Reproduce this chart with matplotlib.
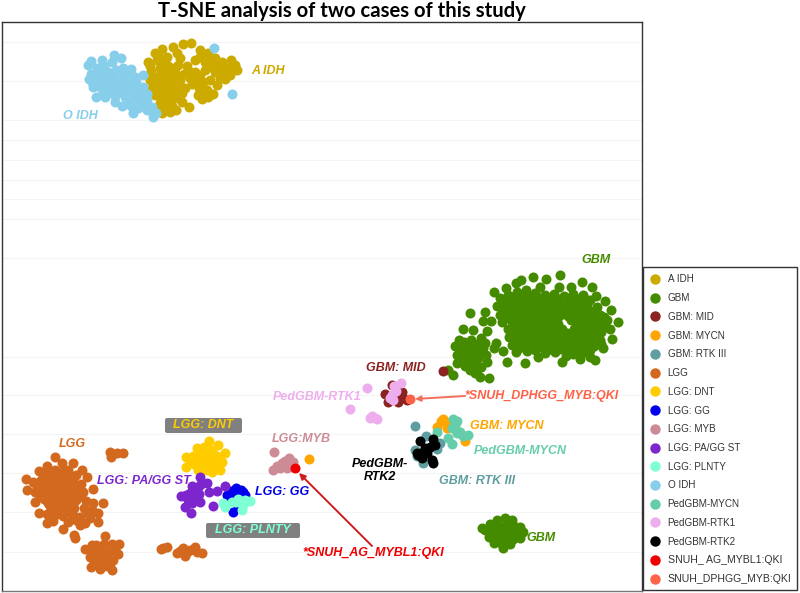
import matplotlib
matplotlib.use('Agg')
import matplotlib.pyplot as plt
from matplotlib.lines import Line2D
from matplotlib.patches import FancyBboxPatch, Rectangle

# points, axes units are reference pixels
a_idh = [(173,47),(183,44),(191,43),(200,50),(208,53),(162,49),(155,53),(148,62),(157,60),(167,57),(177,53),(178,65),
         (187,66),(195,60),(205,62),(215,58),(222,62),(231,60),(237,70),(230,75),(235,65),(151,71),(160,68),(168,66),
         (175,72),(170,75),(160,75),(153,85),(150,90),(160,88),(170,85),(180,80),(190,78),(185,88),(175,92),(165,95),
         (160,103),(167,108),(172,106),(170,112),(162,113),(182,102),(189,107),(202,99),(213,94),(207,90),(199,88),
         (210,80),(220,78),(225,79),(200,75),(195,72),(205,70),(215,72),(165,62),(172,68),(160,82),(168,80),(176,86),
         (184,74),(210,66),(222,70),(155,95),(163,100),(172,98),(208,97),(198,95),(192,84),(182,93),(170,104),(158,110),
         (217,85),(203,82),(228,68),(150,66),(158,56),(155,78),(165,72),(180,58),(200,57),(212,60),(190,72),(215,66),
         (203,92),(168,90),(178,98),(158,92),(225,72),(165,84),(196,80),(176,78),(150,80),(165,108),(176,110)]
gbm = [(533,277),(560,275),(546,279),(521,280),(516,283),(582,282),(506,288),(494,292),(592,287),(571,287),(559,287),
       (540,287),(596,296),(605,301),(611,310),(618,322),(610,329),(612,339),(603,348),(595,360),(580,359),(562,362),
       (538,357),(525,363),(507,362),(503,351),(494,348),(496,343),(470,313),(485,312),(483,321),(491,321),(463,329),
       (473,330),(487,331),(481,338),(459,340),(455,346),(457,355),(457,363),(465,366),(475,373),(489,378),(480,377),
       (453,375),(448,370),(487,362),
       (500,298),(508,295),(517,292),(526,290),(535,293),(545,295),(554,294),(564,296),(573,294),(583,295),(590,300),
       (497,306),(506,303),(515,301),(524,299),(533,301),(542,303),(551,302),(560,304),(569,302),(578,303),(587,305),(597,307),
       (500,315),(509,312),(518,310),(527,308),(536,311),(545,312),(554,310),(563,313),(572,311),(581,312),(590,314),(600,315),
       (502,322),(511,320),(520,319),(529,318),(538,320),(547,321),(556,319),(571,320),(580,321),(589,322),(598,323),(607,320),
       (508,329),(517,328),(526,327),(535,329),(544,330),(553,328),(562,329),(574,329),(583,330),(592,331),(601,332),
       (509,337),(518,336),(527,335),(536,338),(545,338),(554,337),(563,336),(572,338),(581,339),(590,338),(600,340),
       (512,345),(521,344),(530,345),(539,347),(548,346),(557,345),(566,344),(575,346),(584,347),(594,346),(601,344),
       (516,352),(527,351),(545,353),(555,352),(568,351),(585,352),
       (464,342),(471,340),(478,344),(468,349),(475,351),(483,348),(462,356),(470,357),(478,358),(486,355),(467,362),(474,364),(481,367),
       (566,356),(573,354),(590,357),
       (504,300),(513,297),(522,295),(531,296),(540,298),(550,298),(559,299),(569,298),(578,299),(587,300),
       (504,308),(513,306),(522,304),(531,305),(540,307),(549,307),(558,308),(567,307),(576,308),(585,309),(594,311),
       (505,318),(514,315),(523,314),(532,314),(541,316),(550,316),(559,316),(568,316),(577,317),(586,318),(595,319),(604,317),
       (513,324),(522,323),(531,323),(540,325),(549,325),(558,324),(577,325),(586,326),(595,327),(604,326),
       (513,333),(522,332),(531,331),(540,333),(549,334),(558,333),(567,333),(578,334),(587,335),(596,335),
       (514,341),(523,340),(532,341),(541,342),(550,342),(559,341),(568,340),(577,342),(586,343),(596,342),
       (519,348),(535,350),(550,349),(561,349),(578,350),(590,350),
       (460,347),(467,345),(474,347),(481,353),(463,352),(473,358),(485,343),(470,370),(477,370),(460,360)]
gbm_small = [(497,520),(505,518),(512,520),(490,524),(498,526),(506,525),(514,526),(520,527),(485,530),(493,532),(501,531),
             (509,532),(517,533),(523,532),(489,537),(497,538),(505,537),(513,539),(520,538),(494,543),(502,544),(510,544),(503,548),(482,528)]
gbm_mid = [(443,371),(385,394),(392,385),(402,392),(407,400),(398,402),(388,402),(396,396),(403,398)]
gbm_mycn = [(309,459),(443,419),(441,421),(447,428),(437,427),(465,441),(446,422)]
gbm_rtk3 = [(415,426),(426,436),(440,443),(415,450),(423,463),(432,460),(417,456),(437,449)]
lgg = [(55,457),(26,479),(27,490),(73,463),(82,470),(87,477),(93,489),(103,503),(98,513),(98,522),(85,523),(80,525),
       (63,529),(74,535),(75,538),(47,523),(39,513),(35,502),(39,471),(47,466),(55,470),(62,463),(68,470),(76,475),
       (33,482),(41,480),(49,478),(57,478),(65,478),(73,482),(81,484),(35,492),(43,490),(51,488),(59,488),(67,488),
       (75,491),(83,492),(44,499),(52,498),(60,497),(68,498),(76,500),(86,501),(93,503),(50,506),(58,506),(66,506),
       (74,508),(92,510),(47,514),(55,515),(63,516),(73,515),(80,517),(88,513),(53,521),(68,522),(76,520),
       (45,473),(53,474),(61,472),(69,476),(37,487),(45,485),(53,483),(61,483),(69,483),(77,486),(40,495),(48,494),
       (56,493),(64,493),(72,495),(80,496),(48,503),(56,502),(64,502),(72,503),(54,510),(62,511),(70,512),(84,508),(90,518),
       (110,452),(111,457),(117,453),(123,453),
       (105,536),(85,549),(119,544),(118,554),(90,557),(91,567),(100,569),(112,570),(96,545),(104,544),(112,544),
       (93,551),(101,552),(109,552),(97,559),(105,560),(113,560),(99,565),(107,566),(92,545),(115,549),(94,562),(110,564),
       (161,549),(163,548),(167,547),(177,553),(185,556),(183,548),(195,547),(202,553),(197,552),(190,550),(180,551),(187,552)]
lgg_dnt = [(209,441),(218,445),(225,453),(222,462),(220,470),(186,457),(186,467),(197,448),(204,447),(212,450),(193,456),
           (201,455),(209,456),(217,456),(194,464),(202,463),(210,463),(216,465),(198,470),(206,470),(212,472),
           (200,451),(208,451),(197,460),(205,459),(213,460),(190,461),(200,466),(208,467),(214,468)]
lgg_gg = [(236,488),(227,495),(245,495),(231,491),(241,490),(234,497),(240,497),(228,500),(233,512),(238,507),(243,492),(229,493),(238,493)]
lgg_myb = [(274,452),(289,458),(282,463),(273,470),(280,468),(287,468),(293,462),(292,467),(285,461),(277,466)]
lgg_pa = [(200,477),(207,483),(225,486),(217,491),(209,492),(192,486),(181,496),(190,493),(200,502),(185,507),(191,513),
          (213,506),(197,490),(188,500),(196,497),(200,485),(192,503),(186,495),(193,498),(199,494)]
lgg_plnty = [(225,507),(232,502),(238,499),(250,501),(243,505),(242,510),(223,503),(245,500),(236,502)]
o_idh = [(114,55),(121,58),(102,60),(91,61),(88,65),(112,62),(91,74),(100,71),(108,72),(89,79),(97,78),(105,80),(113,78),
         (123,68),(131,69),(143,75),(135,77),(123,78),(93,87),(100,87),(108,88),(117,87),(125,87),(133,87),(143,87),(96,97),
         (105,97),(115,102),(122,106),(125,97),(133,98),(131,106),(133,113),(140,103),(147,100),(147,110),(153,117),(156,113),
         (152,107),(214,48),(232,94),(97,68),(104,66),(116,70),(128,75),(96,82),(112,84),(120,92),(128,92),(138,92),(110,92),
         (103,92),(138,108),(144,106),(104,74),(112,75),(120,72),(128,82),(136,82),(120,82),(100,84),(92,82),(115,96),(140,97),(147,94),(128,103)]
ped_mycn = [(453,419),(457,421),(437,432),(452,428),(457,433),(463,436),(468,435),(448,438),(452,444),(460,432),(455,426)]
ped_rtk1 = [(367,388),(350,409),(394,386),(401,383),(392,395),(393,400),(370,418),(375,418),(372,416),(377,419),(390,398),(396,391)]
ped_rtk2 = [(420,441),(433,439),(435,445),(425,448),(427,453),(418,455),(422,458),(433,463),(432,460),(417,453),(423,452),(430,447)]
snuh_ag = [(295,468)]
snuh_dphgg = [(410,399)]

series_names = ['A IDH', 'GBM', 'GBM: MID', 'GBM: MYCN', 'GBM: RTK III', 'LGG', 'LGG: DNT', 'LGG: GG', 'LGG: MYB',
                'LGG: PA/GG ST', 'LGG: PLNTY', 'O IDH', 'PedGBM-MYCN', 'PedGBM-RTK1', 'PedGBM-RTK2',
                'SNUH_ AG_MYBL1:QKI', 'SNUH_DPHGG_MYB:QKI']
series_colors = ['#CDAA00', '#458B00', '#8B2323', '#FFA500', '#5F9EA0', '#D2691E', '#FFCC00', '#0000EE', '#CD8C95',
                 '#7D26CD', '#7FFFD4', '#87CEEB', '#66CDAA', '#EEAEEE', '#000000', '#EE0000', '#FF6347']
series_points = [a_idh, gbm + gbm_small, gbm_mid, gbm_mycn, gbm_rtk3, lgg, lgg_dnt, lgg_gg, lgg_myb, lgg_pa, lgg_plnty, o_idh,
                 ped_mycn, ped_rtk1, ped_rtk2, snuh_ag, snuh_dphgg]
grid_rows = [42, 81, 120, 140, 160, 180, 199, 219, 258, 357, 395, 434, 473, 512, 552]

# text, left x, center y, colour
labels = [('A IDH', 251, 71, '#CDAA00'), ('O IDH', 63, 116, '#87CEEB'), ('GBM', 581, 260, '#458B00'),
          ('GBM: MID', 366, 368, '#8B2323'), ('PedGBM-RTK1', 273, 397, '#EEAEEE'),
          ('*SNUH_DPHGG_MYB:QKI', 464, 396, '#FF6347'), ('GBM: MYCN', 470, 426, '#FFA500'),
          ('PedGBM-MYCN', 474, 451, '#66CDAA'), ('GBM: RTK III', 439, 481, '#5F9EA0'),
          ('LGG:MYB', 272, 439, '#CD8C95'), ('LGG', 59, 444, '#D2691E'), ('LGG: PA/GG ST', 97, 481, '#7D26CD'),
          ('LGG: GG', 255, 492, '#0000EE'), ('*SNUH_AG_MYBL1:QKI', 302, 553, '#EE0000'), ('GBM', 526, 538, '#458B00')]

plt.rcParams['font.family'] = ['Liberation Sans', 'DejaVu Sans']

fig = plt.figure(figsize=(8.0, 5.93), dpi=100)
ax = fig.add_axes([2/800, 1-591/593, 640/800, 569/593])
ax.set_xlim(2, 642)
ax.set_ylim(591, 22)
ax.set_xticks([])
ax.set_yticks([])
for s in ax.spines.values():
    s.set_linewidth(1.0)
    s.set_color('#333333')
ax.spines['bottom'].set_color('#777777')

for row in grid_rows:
    ax.axhline(row, color='#f4f4f4', lw=0.8, zorder=0)

for pts, col in zip(series_points, series_colors):
    ax.scatter([p[0] for p in pts], [p[1] for p in pts], s=52, c=col, linewidths=0, zorder=2)

for txt, x, y, col in labels:
    ax.text(x, y, txt, color=col, fontsize=9, fontweight='bold', fontstyle='italic', va='center', ha='left', zorder=4)
ax.text(380, 470.5, 'PedGBM-\nRTK2', color='black', fontsize=9, fontweight='bold', fontstyle='italic',
        va='center', ha='center', linespacing=1.1, zorder=4)

# grey label boxes
for x0, y0, w, h in [(165, 418, 77, 15), (206, 523, 94, 15)]:
    ax.add_patch(FancyBboxPatch((x0, y0), w, h, boxstyle='round,pad=0,rounding_size=2', fc='#808080', ec='none', zorder=3.5))
ax.text(203.5, 425.5, 'LGG: DNT', color='#FFCC00', fontsize=9, fontweight='bold', fontstyle='italic',
        va='center', ha='center', zorder=4)
ax.text(253, 530.5, 'LGG: PLNTY', color='#7FFFD4', fontsize=9, fontweight='bold', fontstyle='italic',
        va='center', ha='center', zorder=4)

ax.annotate('', xy=(299, 473), xytext=(372, 546), zorder=3,
            arrowprops=dict(arrowstyle='-|>', color='#D01C1C', lw=1.4, mutation_scale=9, shrinkA=0, shrinkB=0))
ax.annotate('', xy=(415, 399), xytext=(465, 396), zorder=3,
            arrowprops=dict(arrowstyle='-|>', color='#F0705A', lw=1.4, mutation_scale=8, shrinkA=0, shrinkB=0))

fig.text(342/800, 1-11/593, 'T-SNE analysis of two cases of this study', family=['Lato', 'DejaVu Sans'],
         fontsize=14.6, fontweight='bold', ha='center', va='center')

# legend frame drawn apart so it can be sized to the reference
fig.add_artist(Rectangle((643/800, 1-590/593), 154/800, 323/593, transform=fig.transFigure,
                         fc='white', ec='#333333', lw=1.0))
handles = [Line2D([], [], ls='', marker='o', ms=7.5, mfc=c, mec='none') for c in series_colors]
leg = fig.legend(handles, series_names, loc='upper left', bbox_to_anchor=(643/800, 1-270/593), borderaxespad=0,
                 frameon=False, fontsize=7.1, labelspacing=0.885, handletextpad=0.45, handlelength=1.6, borderpad=0.45)
for t in leg.get_texts():
    t.set_color('#333333')
for t in leg.get_texts()[-2:]:
    t.set_fontsize(7.6)

fig.savefig('out.png', dpi=100)
